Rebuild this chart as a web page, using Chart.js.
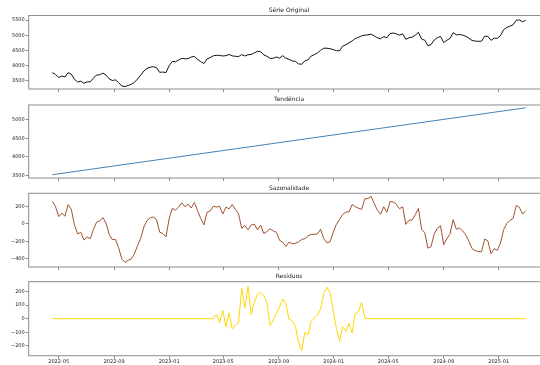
<!DOCTYPE html>
<html>
<head>
<meta charset="utf-8">
<script src="https://cdn.jsdelivr.net/npm/chart.js@4.4.1/dist/chart.umd.min.js"></script>
<style>
  html, body { margin: 0; padding: 0; background: #fff; overflow: hidden; width: 540px; height: 365px; }
  #wrap { position: relative; width: 540px; height: 365px; overflow: hidden; }
  canvas { position: absolute; left: 0; }
</style>
</head>
<body>
<div id="wrap">
  <canvas id="c0" width="552" height="93" style="top:0px"></canvas>
  <canvas id="c1" width="552" height="93" style="top:89px"></canvas>
  <canvas id="c2" width="552" height="93" style="top:178px"></canvas>
  <canvas id="c3" width="552" height="99" style="top:266px"></canvas>
</div>
<script>
// Weekly observations (Sundays), first week below
const START_DATE = '2022-04-17';

const observed = [
  3770,3710,3610,3655,3625,3770,3720,3550,3460,3490,
  3420,3465,3470,3585,3690,3700,3755,3690,3565,3510,
  3530,3440,3330,3310,3345,3385,3450,3560,3690,3825,
  3910,3950,3965,3935,3780,3790,3770,4000,4140,4130,
  4185,4240,4225,4230,4285,4305,4210,4135,4070,4220,
  4265,4325,4343,4335,4320,4330,4370,4323,4310,4300,
  4365,4320,4360,4370,4425,4470,4460,4355,4310,4240,
  4245,4285,4250,4330,4245,4210,4155,4143,4060,4045,
  4160,4190,4315,4363,4420,4505,4575,4575,4560,4530,
  4495,4490,4645,4690,4750,4815,4895,4935,4985,5005,
  5018,5040,4980,4920,4885,4960,4920,5060,5077,5050,
  5005,5050,4870,4920,4940,5005,5100,4880,4840,4660,
  4700,4845,4925,4965,4765,4835,4900,5090,5015,5030,
  5008,4968,4905,4830,4812,4802,4810,4970,4965,4835,
  4905,4900,4990,5185,5260,5305,5350,5500,5510,5445,5500
];

// Linear trend: value at the first and at the last week
const trendEnds = [3520, 5330];

const seasonal = [
  262,200,85,125,90,225,170,-10,-115,-95,
  -185,-150,-170,-65,20,35,75,10,-120,-180,
  -180,-275,-405,-445,-420,-405,-345,-250,-165,-35,
  40,72,80,50,-95,-110,-150,60,180,160,
  195,245,200,230,185,250,155,65,-10,135,
  150,205,195,205,115,195,175,225,170,118,
  -50,-18,-68,-12,-2,-68,-12,-110,-88,-55,
  -80,-97,-190,-211,-260,-208,-230,-223,-208,-180,
  -170,-138,-122,-119,-116,-61,-170,-218,-207,-95,
  -5,52,110,138,140,225,198,183,168,290,
  295,320,235,160,112,200,135,260,255,228,
  175,200,-5,42,46,108,180,-60,-100,-280,
  -262,-115,-50,-20,-240,-170,-118,50,-60,-48,
  -80,-126,-200,-285,-308,-320,-320,-175,-195,-343,
  -285,-305,-220,-65,5,42,62,215,192,115,154
];

const residual = [
  0,0,0,0,0,0,0,0,0,0,
  0,0,0,0,0,0,0,0,0,0,
  0,0,0,0,0,0,0,0,0,0,
  0,0,0,0,0,0,0,0,0,0,
  0,0,0,0,0,0,0,0,0,0,
  0,0,32,-30,62,-60,44,-75,-50,-25,
  222,80,240,30,122,182,195,170,115,-50,
  -10,42,90,145,108,-4,-14,-55,-170,-235,
  -100,-120,-20,3,26,70,190,232,190,60,
  -70,-165,-60,-92,-34,-105,40,52,120,5,
  0,0,0,0,0,0,0,0,0,0,
  0,0,0,0,0,0,0,0,0,0,
  0,0,0,0,0,0,0,0,0,0,
  0,0,0,0,0,0,0,0,0,0,
  0,0,0,0,0,0,0,0,0,0,0
];

const xTickLabels = ['2022-05','2022-09','2023-01','2023-05','2023-09','2024-01','2024-05','2024-09','2025-01'];

const yTicksObserved = [3500, 4000, 4500, 5000, 5500];
const yTicksTrend = [3500, 4000, 4500, 5000];
const yTicksSeasonal = [-400, -200, 0, 200];
const yTicksResidual = [-200, -100, 0, 100, 200];

// ---- date helpers (x axis counts days) ----
const DAY = 86400000;
const dayOf = s => { const p = s.split('-').map(Number); return Date.UTC(p[0], p[1] - 1, p[2] || 1) / DAY; };
const firstDay = dayOf(START_DATE);
const weekDays = observed.map((_, i) => firstDay + 7 * i);
const lastDay = weekDays[weekDays.length - 1];
const pad = (lastDay - firstDay) * 0.05;
const xMin = firstDay - pad, xMax = lastDay + pad;
const xTickDays = xTickLabels.map(l => dayOf(l + '-01'));

const toPoints = vals => vals.map((v, i) => ({ x: weekDays[i], y: v }));
const trendPoints = [{ x: firstDay, y: trendEnds[0] }, { x: lastDay, y: trendEnds[1] }];

const FONT = 'DejaVu Sans';
const AXIS_GRAY = '#8c8c8c';
const TEXT = '#1a1a1a';
const fmt = v => (v < 0 ? '\u2212' + Math.abs(v) : String(v));

// axes frame on all four sides
const framePlugin = {
  id: 'frame',
  afterDatasetsDraw(chart) {
    const { ctx, chartArea: a } = chart;
    ctx.save();
    ctx.strokeStyle = AXIS_GRAY;
    ctx.lineWidth = 1;
    ctx.strokeRect(a.left, a.top, a.right - a.left, a.bottom - a.top);
    ctx.restore();
  }
};

function panel(id, title, points, color, yMin, yMax, yTicks, titlePad, xAxisH, showDates) {
  return new Chart(document.getElementById(id), {
    type: 'line',
    data: { datasets: [{ data: points, borderColor: color, borderWidth: 1, pointRadius: 0, fill: false, tension: 0 }] },
    options: {
      responsive: false,
      animation: false,
      devicePixelRatio: 1,
      events: [],
      layout: { padding: { left: 0, right: 2.6, top: 0, bottom: 0 } },
      plugins: {
        legend: { display: false },
        tooltip: { enabled: false },
        title: {
          display: true, text: title, fullSize: false, color: TEXT,
          font: { family: FONT, size: 6, weight: 'normal', lineHeight: 1 },
          padding: { top: titlePad[0], bottom: titlePad[1] }
        }
      },
      scales: {
        x: {
          type: 'linear', min: xMin, max: xMax,
          afterBuildTicks: s => { s.ticks = xTickDays.map(v => ({ value: v })); },
          afterFit: s => { s.height = xAxisH; },
          ticks: {
            autoSkip: false, maxRotation: 0, padding: 0, color: TEXT,
            font: { family: FONT, size: 5 },
            callback: (v, i) => (showDates ? xTickLabels[i] : '')
          },
          grid: { display: true, drawOnChartArea: false, drawTicks: true, tickLength: 3, tickColor: AXIS_GRAY },
          border: { display: false }
        },
        y: {
          min: yMin, max: yMax,
          afterBuildTicks: s => { s.ticks = yTicks.map(v => ({ value: v })); },
          afterFit: s => { s.width = 28.7; },
          ticks: { padding: 1, color: TEXT, font: { family: FONT, size: 5 }, callback: v => fmt(v) },
          grid: { display: true, drawOnChartArea: false, drawTicks: true, tickLength: 3, tickColor: AXIS_GRAY },
          border: { display: false }
        }
      }
    },
    plugins: [framePlugin]
  });
}

panel('c0', 'Série Original', toPoints(observed), '#111111', 3230, 5655, yTicksObserved, [7.3, 2.2], 3.7, false);
panel('c1', 'Tendência', trendPoints, '#4682b4', 3430, 5405, yTicksTrend, [7.5, 2.5], 3.7, false);
panel('c2', 'Sazonalidade', toPoints(seasonal), '#a0522d', -498, 355, yTicksSeasonal, [7.3, 2.0], 3.7, false);
panel('c3', 'Resíduos', toPoints(residual), '#ffd700', -272, 272, yTicksResidual, [7.7, 2.0], 9.3, true);
</script>
</body>
</html>
